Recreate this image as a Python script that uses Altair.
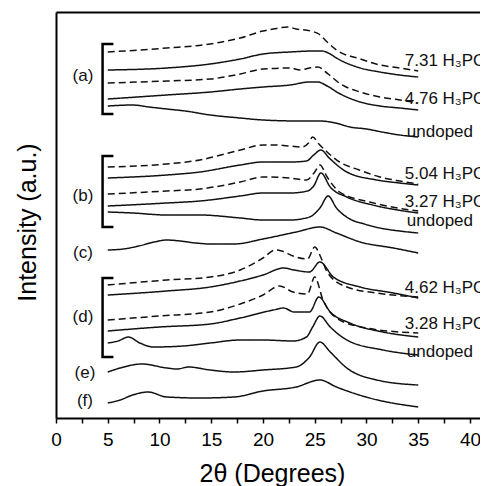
import altair as alt
import pandas as pd

# 2theta (degrees) and stacked intensity (a.u.)
A1_T = [5, 10.7, 14.9, 17.8, 20, 21, 22.4, 23.2, 24.6, 25.4, 26.2, 27.1, 29.4, 31.3, 33.2, 35]
A1_I = [366, 370, 374, 380, 387, 389, 391, 389, 387, 384, 376, 368, 359, 353, 350, 347]
A2_T = [5, 10.7, 14.9, 17.8, 20, 22.6, 25.0, 25.7, 26.5, 27.1, 29.4, 31.3, 33.2, 35]
A2_I = [348, 350, 354, 359, 364, 366, 367, 367, 364, 360, 350, 346, 343, 341]
A3_T = [5, 10.7, 14.9, 17.8, 20, 22.6, 23.6, 24.5, 25.3, 26.3, 27.5, 29.4, 31.3, 33.2, 35]
A3_I = [335, 337, 339, 344, 349, 350, 348, 350, 351, 344, 334, 326, 321, 318, 315]
A4_T = [5, 10.7, 14.9, 17.8, 20, 22.6, 24.5, 25.3, 26.2, 27.3, 29.4, 31.3, 33.2, 35]
A4_I = [319, 323, 326, 329, 331, 333, 336, 336, 332, 325, 316, 312, 310, 308]
A5_T = [5, 7.4, 9, 10.7, 12.5, 14.9, 17.8, 20, 23.5, 25.5, 27, 28.4, 30, 31.5, 33.2, 35]
A5_I = [312, 313, 311, 309, 307, 303, 300, 298, 297, 297, 295, 291, 289, 286, 283, 281]

B1_T = [5, 10.7, 13.9, 17.8, 20, 21, 22.6, 23.8, 24.4, 24.8, 25.4, 26.2, 27.4, 29.3, 31.3, 33.2, 35]
B1_I = [251, 254, 258, 268, 273, 273, 272, 271, 275, 281, 274, 266, 256, 248, 241, 237, 234]
B2_T = [5, 10.7, 13.9, 17.8, 20, 22.6, 24.2, 24.9, 25.6, 26.4, 28.1, 31, 33.2, 35]
B2_I = [240, 243, 246, 253, 256, 256, 257, 263, 268, 260, 246, 238, 235, 233]
B3_T = [5, 10.7, 13.9, 17.8, 20, 22.6, 24.2, 25.0, 25.5, 26.2, 27.4, 30.3, 33, 35]
B3_I = [224, 227, 229, 236, 241, 240, 238, 246, 253, 241, 226, 216, 210, 207]
B4_T = [5, 10.7, 13.9, 17.8, 20, 22.6, 24.3, 24.9, 25.6, 26.5, 28.1, 30.6, 33, 35]
B4_I = [212, 215, 217, 222, 225, 225, 227, 232, 245, 231, 221, 213, 208, 205]
B5_T = [5, 7.4, 10.7, 13.9, 17.8, 20, 22.6, 24.5, 25.5, 26.3, 27.1, 28.4, 29.8, 31.3, 33.2, 35]
B5_I = [206, 205, 203, 203, 200, 198, 198, 201, 210, 222, 210, 199, 194, 190, 187, 185]

C_T = [5, 6.5, 8, 9.5, 10.7, 12, 13.5, 15, 17.2, 20, 23.2, 25.5, 27.1, 29.4, 32.6, 35]
C_I = [168, 169, 172, 176, 178, 177, 175, 174, 174, 179, 186, 191, 185, 176, 170, 165]

D1_T = [5, 10.7, 14.9, 17.8, 20, 21.2, 21.8, 22.9, 24.3, 25.0, 25.7, 26.2, 28.1, 31, 35]
D1_I = [133, 138, 141, 148, 160, 168, 167, 162, 159, 171, 158, 146, 131, 125, 121]
D2_T = [5, 10.7, 14.9, 17.8, 20, 22, 23, 24.5, 25.5, 26.8, 29.4, 32.6, 35]
D2_I = [123, 127, 131, 137, 143, 150, 148, 146, 156, 141, 131, 125, 120]
D3_T = [5, 10.0, 14.9, 17.8, 20, 21.6, 22.9, 24.3, 25.0, 25.8, 27.1, 30, 35]
D3_I = [98, 102, 106, 114, 123, 132, 126, 124, 141, 118, 100, 90, 85]
D4_T = [5, 10, 14.9, 17.8, 21.0, 22, 23, 24.5, 25.4, 26.5, 28.4, 31.6, 35]
D4_I = [87, 91, 94, 100, 108, 110, 106, 106, 121, 106, 95, 86, 81]
D5_T = [5, 6, 7, 8.1, 9.4, 12.3, 14.9, 17.8, 20, 22.9, 24.2, 24.8, 25.5, 26.5, 28.1, 31.6, 35]
D5_I = [75, 77, 81, 75, 71, 72, 75, 78, 78, 77, 81, 91, 102, 91, 78, 68, 63]

E_T = [5, 6.2, 8.3, 10.7, 11.7, 12.8, 14.9, 17.2, 20, 23.2, 24.5, 25.5, 26.5, 28.1, 31, 35]
E_I = [46, 50, 54, 50, 49, 51, 48, 46, 48, 51, 61, 76, 66, 50, 38, 33]
F_T = [5, 6.2, 7.4, 8.9, 10.7, 13.9, 17.2, 20, 23.2, 25.5, 27.1, 30.3, 35]
F_I = [15, 18, 23, 26, 21, 20, 21, 27, 31, 38, 31, 20, 11]

CURVES = [
    ("a1", "dash", A1_T, A1_I), ("a2", "solid", A2_T, A2_I), ("a3", "dash", A3_T, A3_I),
    ("a4", "solid", A4_T, A4_I), ("a5", "solid", A5_T, A5_I),
    ("b1", "dash", B1_T, B1_I), ("b2", "solid", B2_T, B2_I), ("b3", "dash", B3_T, B3_I),
    ("b4", "solid", B4_T, B4_I), ("b5", "solid", B5_T, B5_I),
    ("c", "solid", C_T, C_I),
    ("d1", "dash", D1_T, D1_I), ("d2", "solid", D2_T, D2_I), ("d3", "dash", D3_T, D3_I),
    ("d4", "solid", D4_T, D4_I), ("d5", "solid", D5_T, D5_I),
    ("e", "solid", E_T, E_I), ("f", "solid", F_T, F_I),
]

# group brackets: (name, top, bottom) in intensity units
BRACKETS = [("a", 374, 304), ("b", 262, 191), ("d", 140, 61)]
BRACKET_X = [5.55, 4.5, 4.5, 5.55]

GROUP_LABELS = ["(a)", "(b)", "(c)", "(d)", "(e)", "(f)"]
GROUP_LABEL_X = [2.6, 2.6, 2.6, 2.6, 2.8, 2.8]
GROUP_LABEL_Y = [342, 222, 165, 101, 45, 17]

RIGHT_LABELS = ["7.31 H₃PO₄", "4.76 H₃PO₄", "undoped", "5.04 H₃PO₄", "3.27 H₃PO₄",
                "undoped", "4.62 H₃PO₄", "3.28 H₃PO₄", "undoped"]
RIGHT_LABEL_X = [33.7, 33.7, 33.9, 33.7, 33.7, 33.9, 33.7, 33.7, 33.9]
RIGHT_LABEL_Y = [357, 319, 286, 244, 216, 197, 130, 94, 66]

FONT = "Liberation Sans"

rows = []
for name, style, ts, ys in CURVES:
    for t, v in zip(ts, ys):
        rows.append({"curve": name, "style": style, "theta": t, "intensity": v})
curves_df = pd.DataFrame(rows)

brows = []
for name, top, bot in BRACKETS:
    for i, (bx, by) in enumerate(zip(BRACKET_X, [top, top, bot, bot])):
        brows.append({"group": name, "order": i, "theta": bx, "intensity": by})
brackets_df = pd.DataFrame(brows)

glab_df = pd.DataFrame({"label": GROUP_LABELS, "theta": GROUP_LABEL_X, "intensity": GROUP_LABEL_Y})
rlab_df = pd.DataFrame({"label": RIGHT_LABELS, "theta": RIGHT_LABEL_X, "intensity": RIGHT_LABEL_Y})

XDOM = [0, 40.97]
YDOM = [0, 406]
xscale = alt.Scale(domain=XDOM, nice=False, zero=False)
yscale = alt.Scale(domain=YDOM, nice=False, zero=False)

tick_vals = [i * 2.5 for i in range(17)]

x_main = alt.X(
    "theta:Q", scale=xscale,
    axis=alt.Axis(
        values=tick_vals,
        labelExpr="datum.value % 5 === 0 ? datum.label : ''",
        title="2θ (Degrees)", titleFontSize=25, titleFontWeight="normal", titleFont=FONT,
        titleX=216, titleY=55, titleBaseline="middle", titleAlign="center",
        labelFontSize=19, labelFont=FONT, labelPadding=7, labelFlush=False, labelOverlap=False,
        tickSize=5, tickWidth=1.5, tickColor="black",
        domainWidth=2, domainColor="black", grid=False, labelColor="black", titleColor="black",
    ),
)
y_main = alt.Y(
    "intensity:Q", scale=yscale,
    axis=alt.Axis(
        title="Intensity (a.u.)", titleFontSize=25, titleFontWeight="normal", titleFont=FONT,
        titleAngle=-90, titleX=-29, titleY=210, titleAlign="center", titleBaseline="middle",
        labels=False, ticks=False, grid=False, domainWidth=2, domainColor="black", titleColor="black",
    ),
)

lines = alt.Chart(curves_df).mark_line(strokeWidth=1.5, color="#111", interpolate="monotone").encode(
    x=x_main,
    y=y_main,
    detail="curve:N",
    strokeDash=alt.StrokeDash(
        "style:N",
        scale=alt.Scale(domain=["solid", "dash"], range=[[1, 0], [7, 4]]),
        legend=None,
    ),
)

brackets = alt.Chart(brackets_df).mark_line(strokeWidth=2.5, color="black").encode(
    x=alt.X("theta:Q", scale=xscale,
            axis=alt.Axis(orient="top", labels=False, ticks=False, title=None, grid=False,
                          domainWidth=2, domainColor="black")),
    y=y_main,
    detail="group:N",
    order="order:Q",
)

glabels = alt.Chart(glab_df).mark_text(fontSize=17, font=FONT, color="#111", align="center", baseline="middle").encode(
    x=alt.X("theta:Q", scale=xscale, axis=None),
    y=y_main,
    text="label:N",
)

rlabels = alt.Chart(rlab_df).mark_text(fontSize=17, font=FONT, color="#111", align="left", baseline="middle", clip=True).encode(
    x=alt.X("theta:Q", scale=xscale, axis=None),
    y=y_main,
    text="label:N",
)

chart = alt.layer(lines, brackets, glabels, rlabels).resolve_axis(x="independent").properties(
    width=424, height=406,
    padding={"left": 48, "top": 4, "right": 0, "bottom": 68},
    autosize=alt.AutoSizeParams(type="none"),
).configure_view(stroke=None)

chart.save("out.html", embed_options={"renderer": "svg", "actions": False})
